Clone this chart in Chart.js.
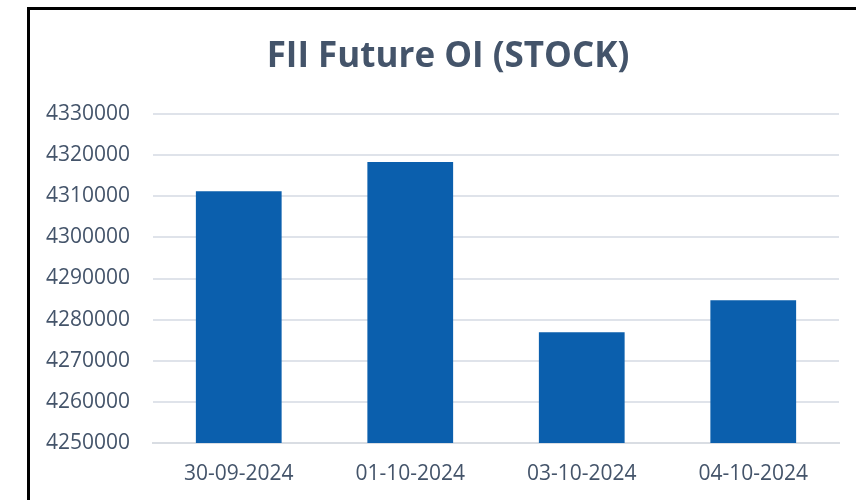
<!DOCTYPE html>
<html>
<head>
<meta charset="utf-8">
<script src="https://cdn.jsdelivr.net/npm/chart.js@4.4.1/dist/chart.umd.min.js"></script>
<style>
  html, body { margin: 0; padding: 0; background: #fff; overflow: hidden; }
  #frame {
    position: absolute; left: 27px; top: 7px;
    width: 900px; height: 520px;
    border-left: 3px solid #000; border-top: 3px solid #000;
  }
  #box { position: absolute; left: 30px; top: 10px; width: 836px; height: 490px; }
</style>
</head>
<body>
<div id="frame"></div>
<div id="box"><canvas id="oiChart"></canvas></div>
<script>
const dates = ["30-09-2024", "01-10-2024", "03-10-2024", "04-10-2024"];
const oiValues = [4311200, 4318300, 4276900, 4284700];
const yMin = 4250000;
const yMax = 4330000;
const yStep = 10000;

const slate = "#44546a";
const gridGray = "#dfe3ea";

// title is centred on the whole box, not on the padded area
const centerTitle = {
  id: 'centerTitle',
  afterLayout(chart) {
    if (chart.titleBlock) {
      chart.titleBlock.left = 0;
      chart.titleBlock.right = chart.width;
    }
  }
};

new Chart(document.getElementById("oiChart"), {
  type: 'bar',
  data: {
    labels: dates,
    datasets: [{
      data: oiValues,
      backgroundColor: "#0b5fad",
      categoryPercentage: 1,
      barPercentage: 0.5
    }]
  },
  options: {
    responsive: true,
    maintainAspectRatio: false,
    animation: false,
    layout: { padding: { left: 0, right: 27, top: 0, bottom: 0 } },
    plugins: {
      legend: { display: false },
      tooltip: { enabled: false },
      title: {
        display: true,
        text: 'FII Future OI (STOCK)',
        color: slate,
        font: { family: "'Open Sans'", size: 35, weight: 'bold' },
        padding: { top: 26, bottom: 36 }
      }
    },
    scales: {
      x: {
        grid: { display: false, drawTicks: false },
        border: { color: "#d9dde3", width: 2 },
        ticks: { color: slate, padding: 18, font: { family: "'Open Sans'", size: 21 } },
        afterFit: function (axis) { axis.height = 57; }
      },
      y: {
        min: yMin,
        max: yMax,
        grid: { color: gridGray, lineWidth: 2, drawTicks: false },
        border: { display: false },
        ticks: {
          stepSize: yStep,
          color: slate,
          padding: 23,
          font: { family: "'Open Sans'", size: 21 },
          callback: function (v) { return String(v); }
        },
        afterFit: function (axis) { axis.width = 123; }
      }
    }
  },
  plugins: [centerTitle]
});
</script>
</body>
</html>
